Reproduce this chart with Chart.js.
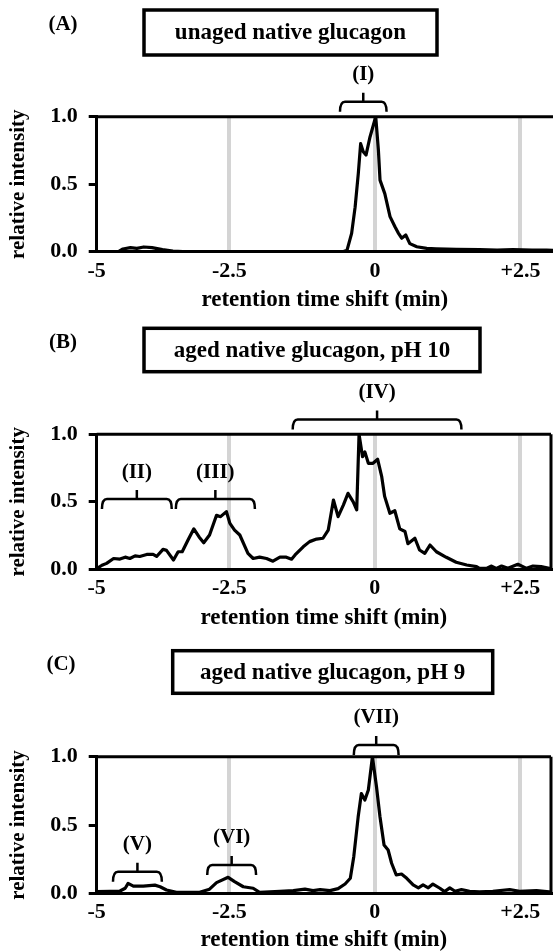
<!DOCTYPE html>
<html>
<head>
<meta charset="utf-8">
<script src="https://cdn.jsdelivr.net/npm/chart.js@4.4.1/dist/chart.umd.min.js"></script>
<style>
  html, body { margin: 0; padding: 0; background: #fff; }
  #page { position: relative; width: 553px; height: 952px; overflow: hidden; background: #fff; }
  .panel { position: absolute; left: 0; width: 553px; }
  canvas { display: block; }
</style>
</head>
<body>
<div id="page">
  <div class="panel" style="top:0"><canvas id="chartA" width="553" height="312"></canvas></div>
  <div class="panel" style="top:312px"><canvas id="chartB" width="553" height="318"></canvas></div>
  <div class="panel" style="top:630px"><canvas id="chartC" width="553" height="322"></canvas></div>
</div>
<script>
"use strict";

// axis: the left edge of the plot sits a little right of -5 in the source figure
const X_MIN = -4.78;
const xTickValues = [X_MIN, -2.5, 0, 2.5];
const xTickLabels = ["-5", "-2.5", "0", "+2.5"];

const panelLetters = ["(A)", "(B)", "(C)"];
const panelTitles = ["unaged native glucagon", "aged native glucagon, pH 10", "aged native glucagon, pH 9"];

// (A) unaged native glucagon
const timesA = [-4.78, -4.4, -4.33, -4.2, -4.09, -3.97, -3.83, -3.65, -3.47, -3.3,
  -1.0, -0.55, -0.48, -0.40, -0.34, -0.285, -0.245, -0.2, -0.153, -0.084,
  0.014, 0.06, 0.088, 0.17, 0.26, 0.345, 0.40, 0.46, 0.53, 0.60,
  0.72, 0.89, 1.05, 1.23, 1.4, 1.8, 2.1, 2.37, 2.7, 2.95, 3.06];
const intensityA = [0, 0.003, 0.02, 0.03, 0.025, 0.035, 0.03, 0.015, 0.005, 0,
  0, 0, 0.01, 0.136, 0.33, 0.58, 0.80, 0.74, 0.716, 0.85,
  1.0, 0.753, 0.53, 0.43, 0.26, 0.185, 0.14, 0.10, 0.124, 0.06,
  0.037, 0.025, 0.022, 0.02, 0.018, 0.015, 0.012, 0.015, 0.012, 0.012, 0.01];

// (B) aged, pH 10
const timesB = [-4.78, -4.69, -4.61, -4.49, -4.38, -4.29, -4.21, -4.12, -4.04, -3.92,
  -3.81, -3.75, -3.64, -3.58, -3.46, -3.38, -3.31, -3.21, -3.11, -3.02,
  -2.94, -2.84, -2.72, -2.65, -2.55, -2.49, -2.41, -2.32, -2.18, -2.09,
  -1.98, -1.86, -1.75, -1.63, -1.52, -1.43, -1.37, -1.23, -1.12, -1.0,
  -0.89, -0.80, -0.71, -0.63, -0.54, -0.46, -0.37, -0.31, -0.27, -0.21,
  -0.17, -0.11, -0.03, 0.05, 0.12, 0.17, 0.26, 0.345, 0.43, 0.52,
  0.57, 0.69, 0.77, 0.86, 0.95, 1.06, 1.23, 1.40, 1.58, 1.75,
  1.8, 1.92, 2.0, 2.09, 2.18, 2.29, 2.46, 2.61, 2.72, 2.86, 3.0, 3.03];
const intensityB = [0.005, 0.03, 0.044, 0.08, 0.076, 0.09, 0.08, 0.10, 0.095, 0.11,
  0.11, 0.095, 0.148, 0.14, 0.069, 0.13, 0.13, 0.217, 0.30, 0.24,
  0.197, 0.254, 0.40, 0.39, 0.427, 0.34, 0.29, 0.254, 0.118, 0.08,
  0.09, 0.08, 0.06, 0.09, 0.09, 0.075, 0.106, 0.167, 0.205, 0.224,
  0.23, 0.29, 0.513, 0.39, 0.476, 0.563, 0.50, 0.44, 1.0, 0.834,
  0.87, 0.785, 0.785, 0.815, 0.686, 0.54, 0.415, 0.434, 0.30, 0.28,
  0.19, 0.23, 0.143, 0.118, 0.18, 0.13, 0.089, 0.052, 0.032, 0.02,
  0.007, 0.007, 0.024, 0.007, 0.024, 0.007, 0.037, 0.007, 0.024, 0.02, 0.007, 0.007];

// (C) aged, pH 9
const timesC = [-4.78, -4.55, -4.38, -4.29, -4.24, -4.15, -3.98, -3.78, -3.69, -3.58,
  -3.41, -3.01, -2.84, -2.72, -2.52, -2.41, -2.26, -2.09, -1.98, -1.63,
  -1.40, -1.20, -1.06, -0.94, -0.77, -0.63, -0.51, -0.42, -0.36, -0.285,
  -0.23, -0.17, -0.11, -0.04, 0.03, 0.09, 0.16, 0.23, 0.29, 0.37,
  0.46, 0.55, 0.66, 0.75, 0.83, 0.92, 1.0, 1.12, 1.2, 1.29,
  1.38, 1.49, 1.63, 1.8, 2.03, 2.32, 2.49, 2.78, 3.0, 3.03];
const intensityC = [0.012, 0.015, 0.017, 0.037, 0.073, 0.053, 0.053, 0.06, 0.048, 0.024,
  0.007, 0.007, 0.03, 0.078, 0.117, 0.085, 0.048, 0.037, 0.007, 0.015,
  0.02, 0.03, 0.02, 0.027, 0.02, 0.034, 0.068, 0.11, 0.27, 0.56,
  0.73, 0.683, 0.756, 1.0, 0.78, 0.56, 0.354, 0.317, 0.22, 0.134,
  0.141, 0.11, 0.061, 0.04, 0.061, 0.04, 0.068, 0.037, 0.012, 0.04,
  0.015, 0.027, 0.015, 0.01, 0.015, 0.027, 0.015, 0.02, 0.01, 0.01];

// peak group brackets: label, x range, height of the bar (y units)
const bracketsA = [{ label: "(I)", from: -0.60, to: 0.20, level: 1.11 }];
const bracketsB = [
  { label: "(II)", from: -4.69, to: -3.49, level: 0.52 },
  { label: "(III)", from: -3.42, to: -2.06, level: 0.52 },
  { label: "(IV)", from: -1.41, to: 1.49, level: 1.11 },
];
const bracketsC = [
  { label: "(V)", from: -4.50, to: -3.66, level: 0.158 },
  { label: "(VI)", from: -2.88, to: -2.04, level: 0.207 },
  { label: "(VII)", from: -0.36, to: 0.41, level: 1.086 },
];

Chart.defaults.font.family = "'Liberation Serif', 'Times New Roman', serif";
Chart.defaults.color = "#000";

function drawBracket(ctx, x1, x2, y, label) {
  const hook = 10, stem = 9, r = 5;
  const xc = (x1 + x2) / 2;
  ctx.beginPath();
  ctx.moveTo(x1, y + hook);
  ctx.quadraticCurveTo(x1, y, x1 + r, y);
  ctx.lineTo(x2 - r, y);
  ctx.quadraticCurveTo(x2, y, x2, y + hook);
  ctx.moveTo(xc, y);
  ctx.lineTo(xc, y - stem);
  ctx.stroke();
  ctx.fillText(label, xc, y - 27);
}

function drawDecor(chart, cfg) {
  const ctx = chart.ctx;
  const area = chart.chartArea;
  const xs = chart.scales.x;
  const ys = chart.scales.y;
  ctx.save();
  ctx.strokeStyle = "#000";
  ctx.fillStyle = "#000";

  // top and right edges of the frame
  ctx.lineWidth = 3;
  ctx.beginPath();
  ctx.moveTo(area.left, area.top);
  ctx.lineTo(area.right, area.top);
  if (cfg.rightBorder) {
    ctx.moveTo(area.right, area.top);
    ctx.lineTo(area.right, area.bottom);
  }
  ctx.stroke();

  // title box
  const b = cfg.box;
  ctx.lineWidth = 3.5;
  ctx.strokeRect(b.x, b.y, b.w, b.h);
  ctx.font = "bold 23px 'Liberation Serif'";
  ctx.textAlign = "center";
  ctx.textBaseline = "middle";
  ctx.fillText(cfg.title, b.x + b.w / 2, b.y + b.h / 2 + 1);

  // panel letter
  ctx.font = "bold 21px 'Liberation Serif'";
  ctx.fillText(cfg.letter, cfg.letterX, cfg.letterY);

  // brackets
  ctx.lineWidth = 2.5;
  cfg.brackets.forEach((br) => {
    drawBracket(ctx, xs.getPixelForValue(br.from), xs.getPixelForValue(br.to),
      ys.getPixelForValue(br.level), br.label);
  });
  ctx.restore();
}

function makePanel(canvasId, times, intensity, cfg) {
  const points = times.map((t, i) => ({ x: t, y: intensity[i] }));
  const tickFont = { size: 22, weight: "bold" };

  return new Chart(document.getElementById(canvasId), {
    type: "line",
    data: {
      datasets: [
        {
          data: points,
          borderColor: "#000",
          borderWidth: 3.2,
          borderJoinStyle: "round",
          pointRadius: 0,
          tension: 0,
          fill: false,
        },
      ],
    },
    options: {
      responsive: false,
      animation: false,
      events: [],
      layout: { padding: { top: cfg.plotTop, left: 0, right: cfg.padRight, bottom: 0 } },
      plugins: {
        legend: { display: false },
        tooltip: { enabled: false },
      },
      scales: {
        x: {
          type: "linear",
          min: X_MIN,
          max: cfg.xMax,
          afterBuildTicks: (scale) => {
            scale.ticks = xTickValues.map((v) => ({ value: v }));
          },
          afterFit: (scale) => {
            scale.height = cfg.height - cfg.plotBottom;
          },
          ticks: {
            autoSkip: false,
            maxRotation: 0,
            padding: 6,
            font: tickFont,
            color: "#000",
            callback: (value, index) => xTickLabels[index],
          },
          grid: {
            drawTicks: false,
            lineWidth: 4,
            color: (c) => (c.tick && c.tick.value === X_MIN ? "rgba(0,0,0,0)" : "#d4d4d4"),
          },
          border: { display: true, color: "#000", width: 3 },
          title: {
            display: true,
            text: "retention time shift (min)",
            color: "#000",
            font: { size: 23, weight: "bold", lineHeight: 1 },
            padding: { top: 0, bottom: 0 },
          },
        },
        y: {
          min: 0,
          max: 1,
          afterFit: (scale) => {
            scale.width = 96.7;
          },
          ticks: {
            stepSize: 0.5,
            padding: 11,
            font: tickFont,
            color: "#000",
            callback: (value) => value.toFixed(1),
          },
          grid: {
            drawOnChartArea: false,
            tickLength: 8,
            lineWidth: 3,
            color: "#000",
          },
          border: { display: true, color: "#000", width: 3 },
          title: {
            display: true,
            text: "relative intensity",
            color: "#000",
            font: { size: 21, weight: "bold", lineHeight: 1 },
            padding: { top: 8, bottom: 0 },
          },
        },
      },
    },
    plugins: [{ id: "panelDecor", afterDraw: (chart) => drawDecor(chart, cfg) }],
  });
}

makePanel("chartA", timesA, intensityA, {
  height: 312, plotTop: 116.7, plotBottom: 251.7, padRight: 0, xMax: 3.06, rightBorder: false,
  box: { x: 144, y: 10, w: 293, h: 45 }, title: panelTitles[0],
  letter: panelLetters[0], letterX: 63, letterY: 25, brackets: bracketsA,
});

makePanel("chartB", timesB, intensityB, {
  height: 318, plotTop: 122.3, plotBottom: 257.3, padRight: 2, xMax: 3.03, rightBorder: true,
  box: { x: 144, y: 16.3, w: 336, h: 43.4 }, title: panelTitles[1],
  letter: panelLetters[1], letterX: 63, letterY: 30.7, brackets: bracketsB,
});

makePanel("chartC", timesC, intensityC, {
  height: 322, plotTop: 126.7, plotBottom: 263.3, padRight: 2, xMax: 3.03, rightBorder: true,
  box: { x: 172.7, y: 20.7, w: 320, h: 42.6 }, title: panelTitles[2],
  letter: panelLetters[2], letterX: 61, letterY: 35, brackets: bracketsC,
});
</script>
</body>
</html>
